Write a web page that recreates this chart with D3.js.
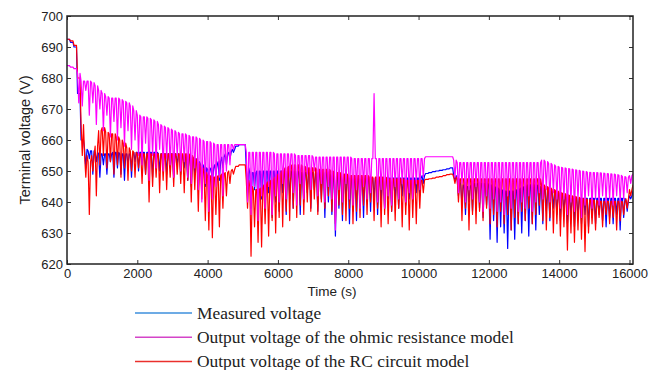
<!DOCTYPE html>
<html>
<head>
<meta charset="utf-8">
<script src="https://cdn.jsdelivr.net/npm/d3@7"></script>
<style>
  body { margin: 0; background: #fff; }
  figure { margin: 0; }
  svg { display: block; }
</style>
</head>
<body>
<figure></figure>
<script>
// sampled every 100 s; "top" is the resting level, "spike" is the extreme reached just after it
const time = d3.range(0, 16101, 100)

const measuredTop = [
  692.5,691.5,690,675,660,657,656.5,656.5,656,655.5,
  655.5,655.5,655.5,656,656,655.5,655.5,655.5,655.5,656,
  656,656,656,656,656,656,655.5,655.5,655.5,655.5,
  655.5,655.5,655,655,655,654.5,654,653,652,651,
  650.5,651,652,653,654.5,655.5,656,657,658,658.5,
  658.5,651,649.5,649.5,650,650,650,650,650,650,
  650,650,650,650,650,650,649.5,649.5,649.5,649.5,
  649.5,649.5,649.5,649.5,649.5,648.5,648.5,648.5,648.5,648.5,
  647.5,647.5,647.5,647.5,647.5,647.7,647.7,647.7,647.7,647.7,
  647.7,647.7,647.7,647.7,647.7,647.7,647.7,647.7,647.7,647.7,
  647.7,648.5,649.2,649.5,649.8,650,650.2,650.4,650.7,651,
  648.5,647,645.5,645,645,645.5,646,646,646,646,
  645.5,645,644.5,644,643.5,643.5,643.5,643.5,644,644.5,
  645,645.5,645.5,645.5,645,644.5,644,643.5,643.5,643,
  642.5,642,641.5,641.2,641.2,641.2,641.2,641.2,641.2,641.2,
  641.2,641.2,641.2,641.2,641.2,641.2,641.2,641.2,641.2,640.5,
  642,643.5
]
const measuredSpike = [
  692.5,691.5,690,675,660,651,654,649,653,648,
  652,649,653,648,651,649,647,652,648,653,
  650,652,649,651,648,653,650,652,649,651,
  648,652,649,651,647,645,649,644,647,645,
  648,646,649,647,651,652,654,656,658,658.5,
  658.5,643,638,644,636,641,637,643,635,640,
  637,643,636,641,638,644,636,640,643,638,
  644,637,641,635,640,636,629,638,634,640,
  633,637,634,639,635,640,637,641,636,640,
  638,641,637,640,638,642,639,641,640,643,
  642,646,649.2,649.5,649.8,650,650.2,650.4,650.7,651,
  647,642,639,636,640,637,641,638,635,639,
  628,634,627,632,630,625,631,628,633,630,
  634,629,633,631,636,633,637,634,638,636,
  634,637,633,636,632,635,633,636,632,635,
  633,636,634,632,635,633,636,631,635,637,
  641,643.5
]

const ohmicTop = [
  684,683.5,683,681.5,679,679,679,678.5,677.5,676,
  675,674,673.5,673.5,673.5,673,672.5,672,671,669.5,
  668,667.5,667.5,667,666.5,666,665,664.5,664,663.5,
  663,662.5,662,662,661.5,661,661,660.5,660,659.5,
  659.5,659,658.5,658.5,658.5,658.5,658.5,658.5,658.5,658.5,
  658.5,656,656,656,656,656,656,656,656,655.5,
  655.5,655.5,655.5,655.5,655.5,655,655,655,655,655,
  654.5,654.5,654.5,654.5,654.5,654.5,654.5,654.5,654.5,654.5,
  654.5,654,654,654,654,654,654,654,654,654,
  654,654,654,654,654,654,654,654,654,654,
  654,654,654.6,654.6,654.6,654.6,654.6,654.6,654.6,654.6,
  653.5,652.7,652.7,652.7,652.7,652.7,652.7,652.7,652.7,652.7,
  652.7,652.7,652.7,652.7,652.7,652.7,652.7,652.7,652.7,652.7,
  652.7,652.7,652.7,652.7,652.7,653.5,653,652.5,652,651.5,
  651.2,651,650.8,650.6,650.4,650.2,650,649.8,649.6,649.5,
  649.5,649.4,649.3,649.2,649.1,649,648.8,648.6,648.2,648,
  648.5,649
]
const ohmicSpike = [
  684,683.5,683,672,671,676,668,672,665,670,
  663,668,661,666,660,664,658,663,657,660,
  655,652,659,647,655,651,657,650,654,652,
  648,655,650,653,648,646,651,644,640,646,
  637,641,645,648,642,650,652,657,658.5,658.5,
  658.5,640,636,645,634,642,638,645,636,642,
  640,646,641,648,643,639,646,641,649,644,
  650,642,646,640,645,641,631,644,640,646,
  641,639,644,638,645,641,643,675,640,644,
  638,642,639,645,641,646,640,643,641,646,
  644,648,654.6,654.6,654.6,654.6,654.6,654.6,654.6,654.6,
  648,643,646,640,644,641,645,640,637,642,
  638,641,637,640,636,642,638,641,637,640,
  638,642,637,640,643,641,644,640,643,641,
  638,641,636,640,637,641,635,639,642,638,
  641,639,642,640,641,639,642,640,641,643,
  646,649
]

const rcTop = [
  692.5,692,690.5,680,665,655,653,655,658,663,
  664,662.5,662,662,661,660,659,657.5,656.5,656,
  655.5,655.5,655.5,655.5,655.5,655.5,655.5,655.5,655.5,655.5,
  655.5,655.5,655.5,655.5,655.5,655,654,652.5,651,649.5,
  648.5,648,648,648.5,649,649.5,650,650.5,651.5,652,
  652,647,645,644,644,644.5,645.5,646.5,647,648,
  649,650,651,651.5,652,652,652,651.5,651,651,
  651,650.5,650.5,650.5,650.5,650,649.5,649.5,649,649,
  648.5,648.5,648.5,648.5,648.5,648.5,648,648,648,648,
  648,647.5,647.5,647.5,647.5,647.5,647,647,647,647,
  647,647,647.3,647.5,647.7,648,648.2,648.5,648.8,649,
  648,647.5,647.5,647.5,647.5,647.5,647.5,647.5,647.5,647.5,
  647.5,647.5,647.5,647.5,647.5,647.5,647.5,647.5,647.5,647.5,
  647.5,647.5,647.5,647.5,647.5,645.5,645,644.5,644,643.5,
  643,642.7,642.3,642,641.8,641.5,641.2,641,640.8,640.6,
  640.5,640.2,640.2,640.2,640.2,640.2,640.2,640.2,640,641,
  644,645.5
]
const rcSpike = [
  692.5,692,690.5,680,655,648,636,650,642,652,
  655,651,653,649,652,648,651,647,650,648,
  651,646,649,640,645,648,643,647,644,648,
  645,649,646,643,647,640,644,637,641,634,
  631,628.5,636,632,638,642,646,649,651.5,652,
  652,638,622.5,632,627,625.5,633,629,634,630,
  635,632,637,634,638,635,639,636,640,637,
  641,636,640,638,642,637,633,639,636,634,
  638,633,637,635,639,636,640,634,638,632,
  636,633,637,634,638,632,636,631,635,633,
  638,643,647.3,647.5,647.7,648,648.2,648.5,648.8,649,
  646,640,634,638,631,636,633,637,634,638,
  633,636,632,637,633,636,631,635,633,637,
  634,638,633,636,639,634,631,635,630,633,
  629,632,624.5,630,627,631,628,624,630,633,
  631,635,632,636,633,635,631,634,636,638,
  642,645.5
]

const xTicks = [0, 2000, 4000, 6000, 8000, 10000, 12000, 14000, 16000]
const yTicks = [620, 630, 640, 650, 660, 670, 680, 690, 700]

const series = [
  {name: "Measured voltage", top: measuredTop, spike: measuredSpike, color: "#0000ff", key: "#3d8fdc"},
  {name: "Output voltage of the ohmic resistance model", top: ohmicTop, spike: ohmicSpike, color: "#ff00ff", key: "#d444c8"},
  {name: "Output voltage of the RC circuit model", top: rcTop, spike: rcSpike, color: "#ff0000", key: "#ea302c"}
]

const svg = d3.select("figure").append("svg")
    .attr("width", 660).attr("height", 370).attr("xmlns", "http://www.w3.org/2000/svg"),
    x = d3.scaleLinear().domain([0, 16100]).range([67, 633]),
    y = d3.scaleLinear().domain([620, 700]).range([264, 16]),
    tickFont = "'Liberation Sans', Arial, sans-serif"

svg.append("clipPath").attr("id", "plot")
  .append("rect")
    .attr("x", x.range()[0]).attr("y", y.range()[1])
    .attr("width", x.range()[1] - x.range()[0])
    .attr("height", y.range()[0] - y.range()[1])

const line = d3.line().x(d => x(d[0])).y(d => y(d[1]))

// draw order: measured, RC, ohmic on top
// each sample: rest level, an excursion, then back to the same rest level
const plot = svg.append("g").attr("clip-path", "url(#plot)")
for (const s of [series[0], series[2], series[1]]) {
  const pts = s.top.flatMap((v, i) => [[time[i], v], [time[i] + 35, s.spike[i]], [time[i] + 70, v]])
  plot.append("path")
    .attr("d", line(pts))
    .attr("fill", "none")
    .attr("stroke", s.color)
    .attr("stroke-width", 1.2)
    .attr("stroke-linejoin", "round")
}

// axes, ticks pointing inward on all four sides
const axisStyle = g => {
  g.select(".domain").remove()
  g.selectAll(".tick line").attr("stroke", "#333").attr("stroke-width", 1)
  g.selectAll(".tick text").attr("fill", "#222").attr("font-size", 13).attr("font-family", tickFont)
}
svg.append("g").attr("transform", `translate(0,${y.range()[0]})`)
  .call(d3.axisBottom(x).tickValues(xTicks).tickFormat(d3.format("d")).tickSizeInner(-4).tickSizeOuter(0).tickPadding(5))
  .call(axisStyle)
svg.append("g").attr("transform", `translate(0,${y.range()[1]})`)
  .call(d3.axisTop(x).tickValues(xTicks).tickSizeInner(-4).tickSizeOuter(0).tickFormat(""))
  .call(axisStyle)
svg.append("g").attr("transform", `translate(${x.range()[0]},0)`)
  .call(d3.axisLeft(y).tickValues(yTicks).tickFormat(d3.format("d")).tickSizeInner(-4).tickSizeOuter(0).tickPadding(4))
  .call(axisStyle)
svg.append("g").attr("transform", `translate(${x.range()[1]},0)`)
  .call(d3.axisRight(y).tickValues(yTicks).tickSizeInner(-4).tickSizeOuter(0).tickFormat(""))
  .call(axisStyle)

svg.append("rect")
  .attr("x", x.range()[0]).attr("y", y.range()[1])
  .attr("width", x.range()[1] - x.range()[0])
  .attr("height", y.range()[0] - y.range()[1])
  .attr("fill", "none").attr("stroke", "#222").attr("stroke-width", 1.5)

svg.append("text")
  .text("Time (s)")
  .attr("x", 332).attr("y", 296)
  .attr("text-anchor", "middle")
  .attr("font-family", tickFont).attr("font-size", 13.5).attr("fill", "#222")

svg.append("text")
  .text("Terminal voltage (V)")
  .attr("transform", "translate(30,140) rotate(-90)")
  .attr("text-anchor", "middle")
  .attr("font-family", tickFont).attr("font-size", 14.5).attr("fill", "#222")

// legend
const legend = svg.append("g").attr("transform", "translate(135,313)")
legend.selectAll("g.item")
  .data(series)
  .enter()
  .append("g").classed("item", true)
    .attr("transform", (_, i) => `translate(0,${i * 24.3})`)
    .each(function(d) {
      const g = d3.select(this)
      g.append("line").attr("x1", 0).attr("x2", 57).attr("y1", 0).attr("y2", 0)
        .attr("stroke", d.key).attr("stroke-width", 1.5)
      g.append("text").text(d.name)
        .attr("x", 62).attr("y", 5.5)
        .attr("font-family", "'Liberation Serif', 'Times New Roman', serif")
        .attr("font-size", 17.4).attr("fill", "#222")
    })
</script>
</body>
</html>
